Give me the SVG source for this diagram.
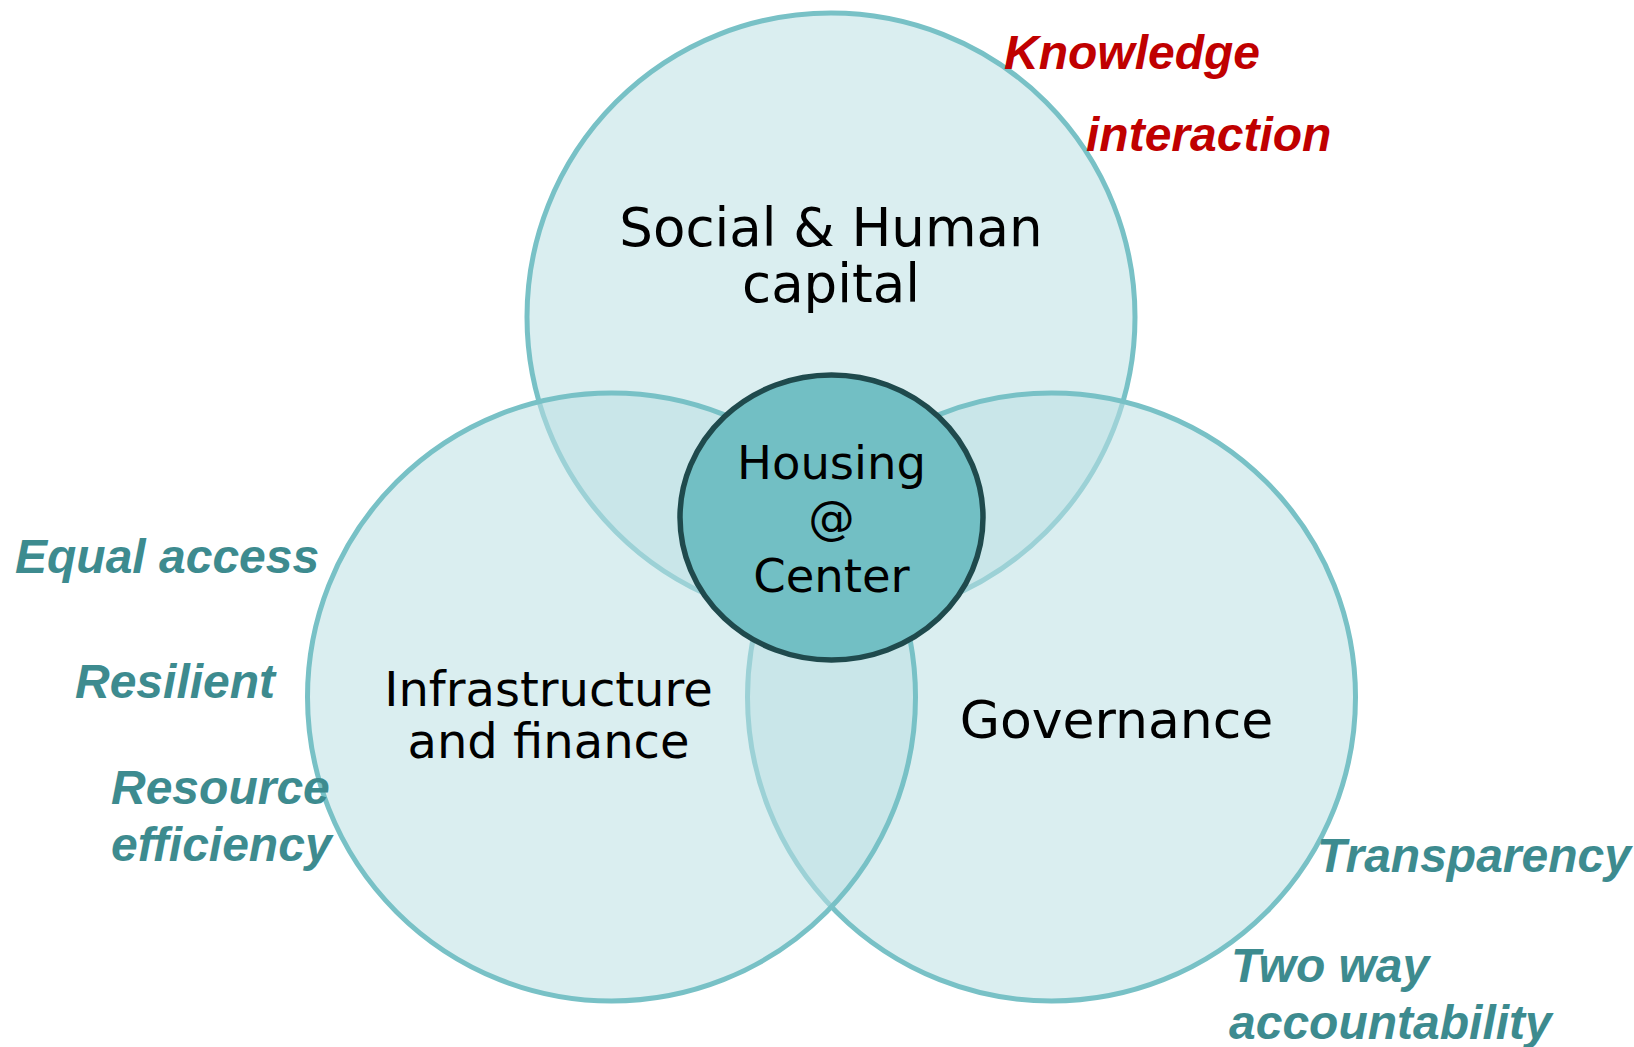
<svg xmlns="http://www.w3.org/2000/svg" width="1634" height="1047" viewBox="0 0 1634 1047">
<style>
.c{fill:none;stroke:#78c1c6;stroke-width:5}
.f{fill:#bbe0e3;fill-opacity:0.54}
.main{font-family:"DejaVu Sans","Verdana",sans-serif;fill:#000;text-anchor:middle}
.lab{font-family:"Liberation Sans",Arial,sans-serif;font-weight:bold;font-style:italic;font-size:48px}
.teal{fill:#3d8b8f}
.red{fill:#c00000}
</style>
<rect width="1634" height="1047" fill="#fff"/>
<g id="social">
<circle class="f" cx="831" cy="317" r="304"/>
<circle class="c" cx="831" cy="317" r="304"/>
</g>
<g id="governance">
<circle class="f" cx="1051.5" cy="697" r="304"/>
<circle class="c" cx="1051.5" cy="697" r="304"/>
</g>
<g id="infrastructure">
<circle class="f" cx="611.5" cy="697" r="304"/>
<circle class="c" cx="611.5" cy="697" r="304"/>
</g>
<g id="housing">
<ellipse cx="831.5" cy="517.5" rx="151.5" ry="142.5" fill="#72bfc4" stroke="#1f4a4d" stroke-width="5.5"/>
<text class="main" font-size="46.5" x="831.5" y="479">Housing</text>
<text class="main" font-size="46.5" x="831.5" y="534">@</text>
<text class="main" font-size="46.5" x="831.5" y="592">Center</text>
</g>
<g id="social-text">
<text class="main" font-size="53" x="831" y="246">Social &amp; Human</text>
<text class="main" font-size="53" x="831" y="302">capital</text>
</g>
<g id="infra-text">
<text class="main" font-size="48" x="548.5" y="706">Infrastructure</text>
<text class="main" font-size="48" x="548.5" y="758">and finance</text>
</g>
<g id="gov-text">
<text class="main" font-size="52" x="1116.5" y="738">Governance</text>
</g>
<g id="connectors"></g>
<g id="labels">
<text class="lab red" x="1004" y="69">Knowledge</text>
<text class="lab red" x="1086" y="151">interaction</text>
<text class="lab teal" x="15" y="573">Equal access</text>
<text class="lab teal" x="75" y="698">Resilient</text>
<text class="lab teal" x="111" y="804">Resource</text>
<text class="lab teal" x="111" y="861">efficiency</text>
<text class="lab teal" x="1317" y="872">Transparency</text>
<text class="lab teal" x="1231" y="982">Two way</text>
<text class="lab teal" x="1229" y="1039">accountability</text>
</g>
</svg>
